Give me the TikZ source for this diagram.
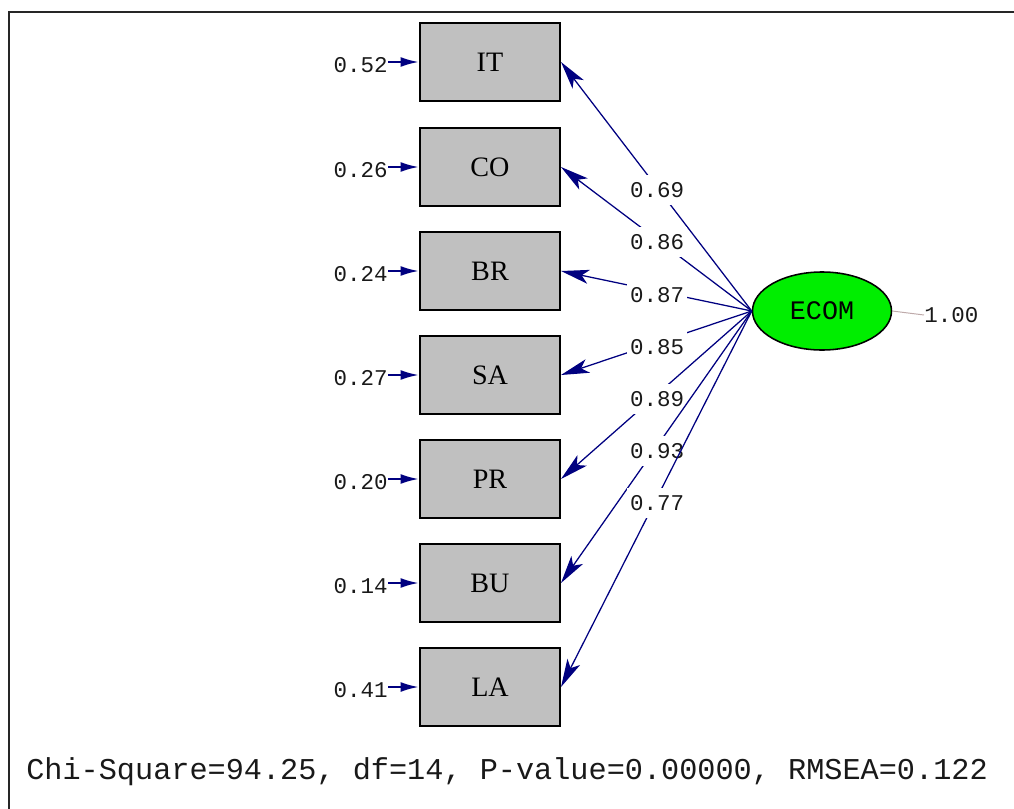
\documentclass[tikz,border=0pt]{standalone}
\usepackage{fontspec}
\setmainfont{Liberation Serif}
\newfontfamily\monofont{Liberation Mono}
\usetikzlibrary{shapes.geometric,arrows.meta}
\definecolor{pathblue}{RGB}{0,0,128}
\definecolor{boxgray}{RGB}{192,192,192}
\definecolor{latentgreen}{RGB}{0,238,0}
\definecolor{varline}{RGB}{190,170,170}
\tikzset{
	obs/.style={draw=black, line width=1.4pt, fill=boxgray, minimum width=3.5cm, minimum height=1.95cm, inner sep=0pt, font=\fontsize{20}{22}\selectfont},
	lat/.style={ellipse, draw=black, line width=1.1pt, fill=latentgreen, minimum width=3.475cm, minimum height=1.95cm, inner sep=0pt, font=\monofont\fontsize{19}{21}\selectfont},
	err/.style={font=\monofont\fontsize{16}{18}\selectfont, text=black!90, anchor=east, inner sep=0pt},
	coef/.style={font=\monofont\fontsize{16}{18}\selectfont, text=black!90, fill=white, inner xsep=2pt, inner ysep=5pt},
	load/.style={pathblue, line width=0.9pt, -{Stealth[length=20pt,width=10pt,inset=5pt]}},
	erra/.style={pathblue, line width=1.6pt, -{Latex[length=13pt,width=7pt]}},
}
\begin{document}
\begin{tikzpicture}[x=0.025cm,y=-0.025cm]
	\useasboundingbox (0,0) rectangle (1014,809);
	\draw[line width=1.5pt, black!85] (9,809) -- (9,12) -- (1014,12);
	% indicators
	\node[obs] (IT) at (490,62)  {IT};
	\node[obs] (CO) at (490,167) {CO};
	\node[obs] (BR) at (490,271) {BR};
	\node[obs] (SA) at (490,375) {SA};
	\node[obs] (PR) at (490,479) {PR};
	\node[obs] (BU) at (490,583) {BU};
	\node[obs] (LA) at (490,687) {LA};
	% latent variable
	\node[lat] (ECOM) at (822,311) {ECOM};
	\node[err, anchor=west] (V) at (924,315) {1.00};
	\draw[varline, line width=0.7pt] (ECOM.east) -- (V.west);
	% error variances
	\node[err] (E1) at (388,65)  {0.52};
	\node[err] (E2) at (388,170) {0.26};
	\node[err] (E3) at (388,274) {0.24};
	\node[err] (E4) at (388,378) {0.27};
	\node[err] (E5) at (388,482) {0.20};
	\node[err] (E6) at (388,586) {0.14};
	\node[err] (E7) at (388,690) {0.41};
	\draw[erra] (E1.east |- IT.west) -- (IT.west);
	\draw[erra] (E2.east |- CO.west) -- (CO.west);
	\draw[erra] (E3.east |- BR.west) -- (BR.west);
	\draw[erra] (E4.east |- SA.west) -- (SA.west);
	\draw[erra] (E5.east |- PR.west) -- (PR.west);
	\draw[erra] (E6.east |- BU.west) -- (BU.west);
	\draw[erra] (E7.east |- LA.west) -- (LA.west);
	% loadings
	\draw[load] (ECOM.west) -- (IT.east);
	\node[coef] (L1) at (657,190) {0.69};
	\draw[load] (ECOM.west) -- (CO.east);
	\node[coef] (L2) at (657,242) {0.86};
	\draw[load] (ECOM.west) -- (BR.east);
	\node[coef] (L3) at (657,295) {0.87};
	\draw[load] (ECOM.west) -- (SA.east);
	\node[coef] (L4) at (657,347) {0.85};
	\draw[load] (ECOM.west) -- (PR.east);
	\node[coef] (L5) at (657,399) {0.89};
	\draw[load] (ECOM.west) -- (BU.east);
	\node[coef] (L6) at (657,451) {0.93};
	\draw[load] (ECOM.west) -- (LA.east);
	\node[coef] (L7) at (657,503) {0.77};
	% fit statistics
	\node[anchor=west, inner sep=0pt, font=\monofont\fontsize{21.5}{24}\selectfont, text=black!90] (fit) at (26,772)
		{Chi-Square=94.25, df=14, P-value=0.00000, RMSEA=0.122};
\end{tikzpicture}
\end{document}
